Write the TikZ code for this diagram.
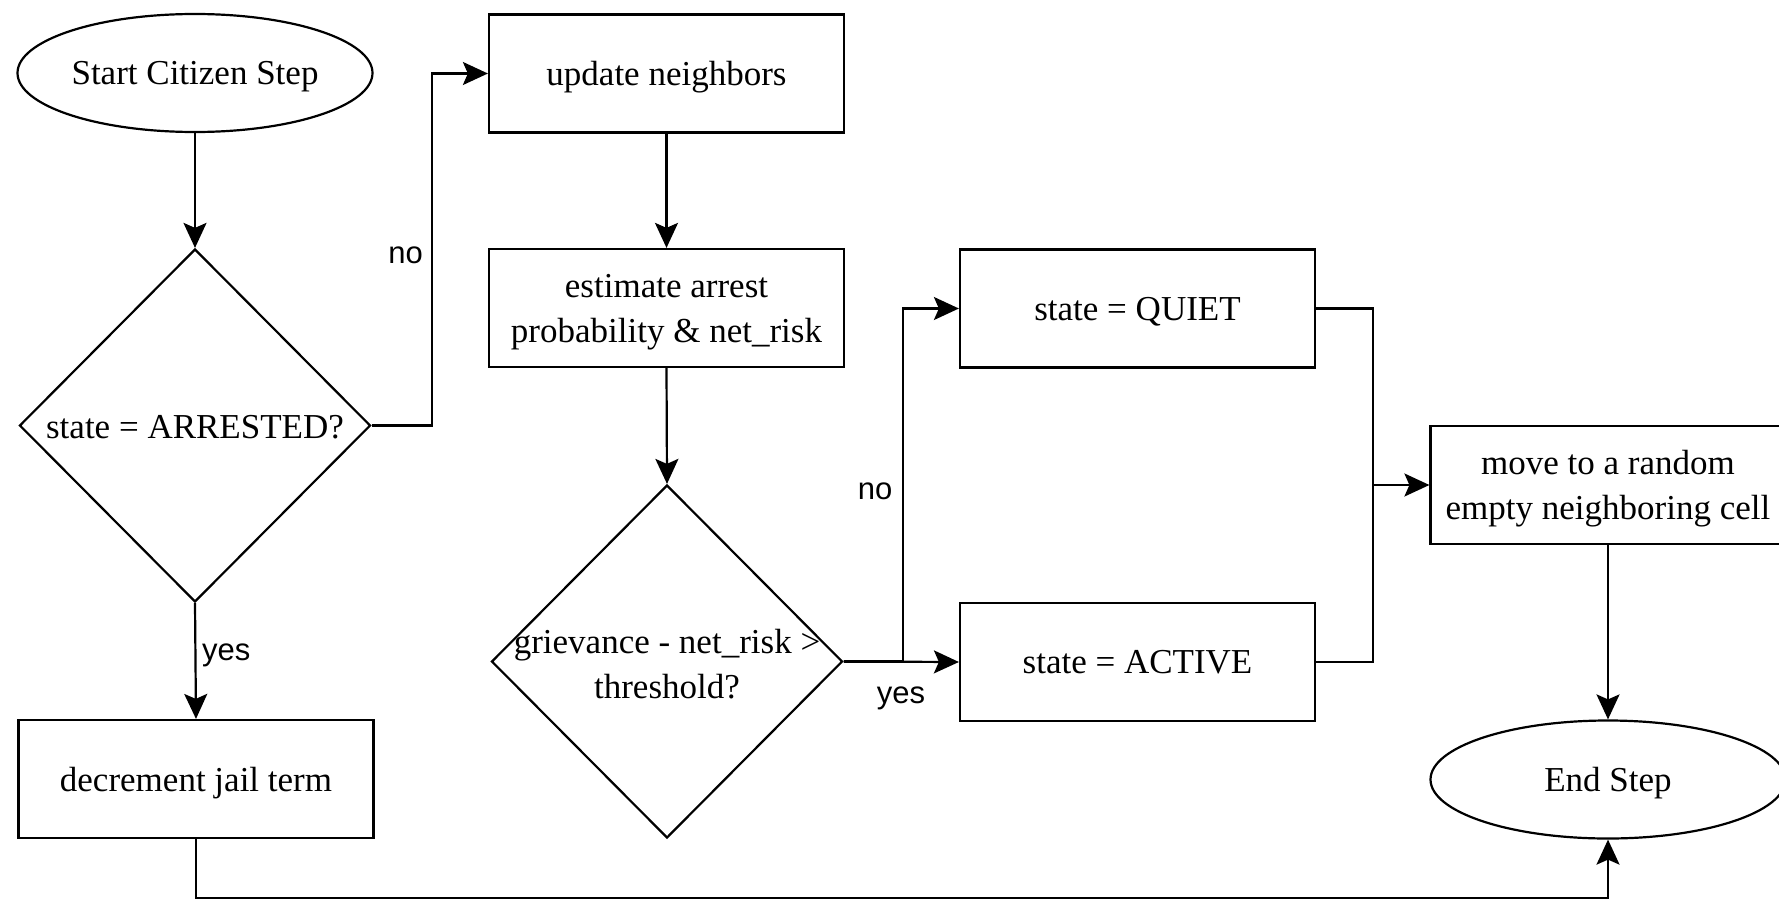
\documentclass[tikz,border=0pt]{standalone}
\usepackage{fontspec}
\setmainfont{Liberation Serif}
\newfontfamily\lblfont{Liberation Sans}
\usetikzlibrary{shapes.geometric,arrows.meta}
\begin{document}
\begin{tikzpicture}[x=1pt,y=-1pt,
  every node/.style={font=\fontsize{35}{45}\selectfont},
  box/.style={draw,line width=2.2pt,rectangle,minimum width=355pt,minimum height=118pt,inner sep=0pt,align=center,text depth=0pt},
  twoline/.style={text depth=-5pt},
  term/.style={draw,line width=2.2pt,ellipse,minimum width=355pt,minimum height=118pt,inner sep=0pt,text depth=0pt},
  dia/.style={draw,line width=2.2pt,diamond,minimum width=351pt,minimum height=353pt,inner sep=0pt},
  txt/.style={align=center,inner sep=0pt},
  lbl/.style={font=\lblfont\fontsize{31}{36}\selectfont,inner sep=0pt},
  conn/.style={line width=2.2pt},
  arr/.style={conn,-{Stealth[length=25pt,width=23pt,inset=5pt]}}
]
\useasboundingbox (0,0) rectangle (1779,899);

% nodes
\node[term] (start) at (195,73) {Start Citizen Step};
\node[box] (upd) at (666.5,73.5) {update neighbors};
\node[dia] (arr) at (195,425.5) {};
\node[txt] (arrt) at (195,427) {state = ARRESTED?};
\node[box,twoline] (est) at (666.5,308) {estimate arrest\\probability \& net\_risk};
\node[dia] (gr) at (667,661.5) {};
\node[txt] (grt) at (667,664) {grievance - net\_risk >\\threshold?};
\node[box] (quiet) at (1137.5,308.5) {state = QUIET};
\node[box] (active) at (1137.5,662) {state = ACTIVE};
\node[box,twoline] (move) at (1608,485) {move to a random\\empty neighboring cell};
\node[term] (end) at (1608,779.5) {End Step};
\node[box] (dec) at (196,779) {decrement jail term};

% labels
\node[lbl,anchor=east] (no1) at (423,255) {no};
\node[lbl,anchor=west] (yes1) at (202,655) {yes};
\node[lbl] (no2) at (875,491) {no};
\node[lbl] (yes2) at (901,698) {yes};

\coordinate (mj) at (1373,485);

% connectors
\draw[arr] (start.south) -- (arr.north);
\draw[arr] (arr.east) -- ++(60,0) |- (upd.west);
\draw[arr] (arr.south) -- (dec.north);
\draw[arr] (upd.south) -- (est.north);
\draw[arr] (est.south) -- (gr.north);
\draw[arr] (gr.east) -- ++(59,0) |- (quiet.west);
\draw[arr] (gr.east) -- (active.west);
\draw[conn] (quiet.east) -| (mj);
\draw[conn] (active.east) -| (mj);
\draw[arr] (mj) -- (move.west);
\draw[arr] (move.south) -- (end.north);
\draw[arr] (dec.south) -- ++(0,59) -| (end.south);
\end{tikzpicture}
\end{document}
